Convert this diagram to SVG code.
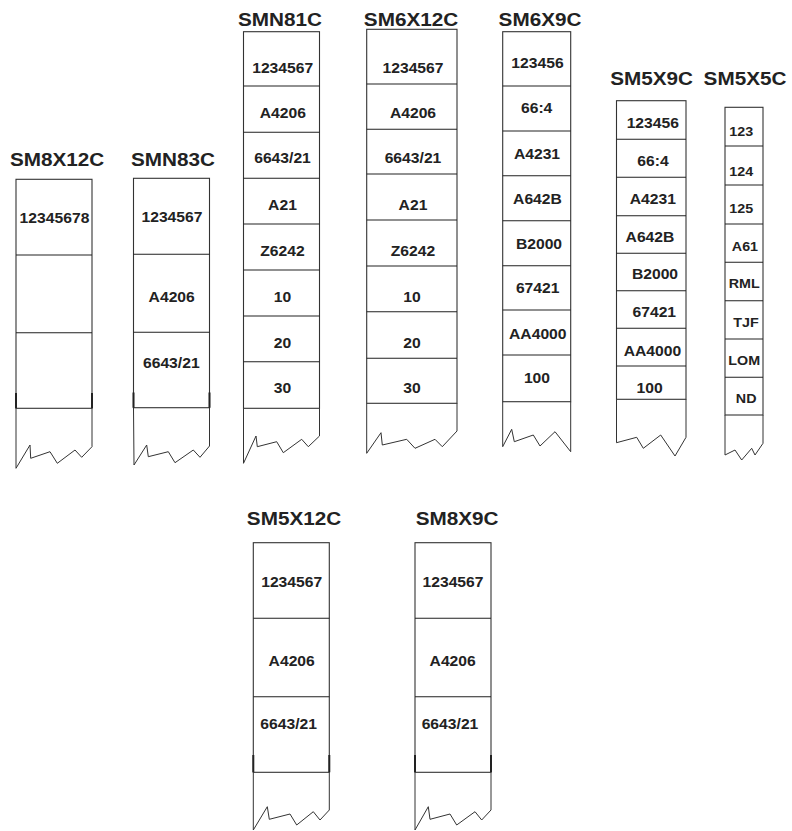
<svg xmlns="http://www.w3.org/2000/svg" width="792" height="831" viewBox="0 0 792 831">
<style>
  .box{fill:none;stroke:#333;stroke-width:1.1}
  .div{stroke:#222;stroke-width:1.1}
  .torn{fill:none;stroke:#333;stroke-width:1}
  .mark{stroke:#222;stroke-width:2}
  text{font-family:"Liberation Sans",Arial,sans-serif;font-weight:bold;text-anchor:middle;fill:#222;transform-box:fill-box;transform-origin:center}
  .h{font-size:18px;transform:scaleX(1.15)}
  .l{font-size:14px;transform:scaleX(1.12)}
  .s{font-size:13px;transform:scaleX(1.1)}
</style>
<rect width="792" height="831" fill="#fff"/>

<g id="SM8X12C">
  <text class="h" x="57" y="166">SM8X12C</text>
  <rect class="box" x="16" y="179.3" width="76" height="229"/>
  <path class="div" d="M16 255H92M16 332.7H92"/>
  <path class="mark" d="M16 393V408.3M92 393V408.3"/>
  <polyline class="torn" points="16,408.3 16,468.3 30,445 30.7,458.3 50,451.7 57.3,463.3 75,450 81.7,457.3 92,446.7 92,408.3"/>
  <text class="l" x="54.5" y="223">12345678</text>
</g>

<g id="SMN83C">
  <text class="h" x="173" y="166">SMN83C</text>
  <rect class="box" x="133.5" y="178.3" width="76" height="229.4"/>
  <path class="div" d="M133.5 254.3H209.5M133.5 332.3H209.5"/>
  <path class="mark" d="M133.5 392.5V407.7M209.5 392.5V407.7"/>
  <polyline class="torn" points="133.5,407.7 134,465 146.7,445 148.3,456.7 168.3,451.7 175,462.7 193.3,450 200,457.3 209.5,446 209.5,407.7"/>
  <text class="l" x="172" y="222">1234567</text>
  <text class="l" x="171.7" y="301.7">A4206</text>
  <text class="l" x="171.3" y="368">6643/21</text>
</g>

<g id="SMN81C">
  <text class="h" x="280" y="26">SMN81C</text>
  <rect class="box" x="243.5" y="31.7" width="76" height="376.6"/>
  <path class="div" d="M243.5 86H319.5M243.5 132.3H319.5M243.5 178.3H319.5M243.5 224H319.5M243.5 270H319.5M243.5 316H319.5M243.5 361.7H319.5"/>
  <polyline class="torn" points="243.5,408.3 243.5,463.3 256,436 257.3,446.7 276.7,441.7 283.3,452.7 301.7,439.3 308.3,446.7 319.5,436 319.5,408.3"/>
  <text class="l" x="282.7" y="72.7">1234567</text>
  <text class="l" x="282.8" y="118.3">A4206</text>
  <text class="l" x="282.5" y="163">6643/21</text>
  <text class="l" x="282.5" y="210">A21</text>
  <text class="l" x="282.5" y="256">Z6242</text>
  <text class="l" x="282.5" y="301.7">10</text>
  <text class="l" x="282.5" y="347.7">20</text>
  <text class="l" x="282.5" y="393.3">30</text>
</g>

<g id="SM6X12C">
  <text class="h" x="411" y="26">SM6X12C</text>
  <rect class="box" x="366.7" y="29.3" width="90.3" height="374"/>
  <path class="div" d="M366.7 84H457M366.7 129.3H457M366.7 174H457M366.7 220H457M366.7 266H457M366.7 311.7H457M366.7 358.3H457"/>
  <polyline class="torn" points="366.7,403.3 366.7,453.3 381,432.7 382.3,445 406.7,439.3 415,448.3 435,439.3 442.3,446.7 457,431 457,403.3"/>
  <text class="l" x="413" y="72.7">1234567</text>
  <text class="l" x="413" y="118.3">A4206</text>
  <text class="l" x="413" y="163">6643/21</text>
  <text class="l" x="413" y="210">A21</text>
  <text class="l" x="413" y="256">Z6242</text>
  <text class="l" x="412" y="301.7">10</text>
  <text class="l" x="412" y="347.7">20</text>
  <text class="l" x="412" y="393.3">30</text>
</g>

<g id="SM6X9C">
  <text class="h" x="540" y="26">SM6X9C</text>
  <rect class="box" x="502.7" y="31.7" width="68" height="370"/>
  <path class="div" d="M502.7 86H570.7M502.7 131H570.7M502.7 175.7H570.7M502.7 220.7H570.7M502.7 265.7H570.7M502.7 310H570.7M502.7 355H570.7"/>
  <polyline class="torn" points="502.7,401.7 502.7,446.7 511.7,429.3 514.3,441.7 533.3,435 540,446 555,431.7 570.7,451.7 570.7,401.7"/>
  <text class="l" x="537.5" y="68.3">123456</text>
  <text class="l" x="536.7" y="113.3">66:4</text>
  <text class="l" x="537" y="159.3">A4231</text>
  <text class="l" x="537.5" y="204">A642B</text>
  <text class="l" x="539" y="249.3">B2000</text>
  <text class="l" x="537.7" y="293.3">67421</text>
  <text class="l" x="537.8" y="339.3">AA4000</text>
  <text class="l" x="537" y="383.3">100</text>
</g>

<g id="SM5X9C">
  <text class="h" x="651.5" y="85">SM5X9C</text>
  <rect class="box" x="616.5" y="100.7" width="69.5" height="298.6"/>
  <path class="div" d="M616.5 139.3H686M616.5 177.3H686M616.5 215.7H686M616.5 253.3H686M616.5 290.7H686M616.5 328.3H686M616.5 366H686"/>
  <polyline class="torn" points="616.5,399.3 616.5,442.7 636.7,437.3 643.3,448.3 660.7,435 675,456 686,437.3 686,399.3"/>
  <text class="l" x="652.8" y="128.3">123456</text>
  <text class="l" x="653" y="166">66:4</text>
  <text class="l" x="652.8" y="204">A4231</text>
  <text class="l" x="650" y="241.7">A642B</text>
  <text class="l" x="655" y="279.3">B2000</text>
  <text class="l" x="654.3" y="317.3">67421</text>
  <text class="l" x="652.5" y="356">AA4000</text>
  <text class="l" x="649.7" y="392.7">100</text>
</g>

<g id="SM5X5C">
  <text class="h" x="745" y="85">SM5X5C</text>
  <rect class="box" x="725" y="107.3" width="38" height="307.7"/>
  <path class="div" d="M725 146H763M725 185H763M725 224H763M725 262.3H763M725 300.7H763M725 339H763M725 377.3H763"/>
  <polyline class="torn" points="725,415 725,455 735,450 741.7,460 751.7,448.3 755,455 763,443.3 763,415"/>
  <text class="s" x="741.2" y="136">123</text>
  <text class="s" x="741.2" y="176">124</text>
  <text class="s" x="741.2" y="212.7">125</text>
  <text class="s" x="745" y="251">A61</text>
  <text class="s" x="744.2" y="288.3">RML</text>
  <text class="s" x="746" y="326.7">TJF</text>
  <text class="s" x="744.2" y="365">LOM</text>
  <text class="s" x="746.2" y="403.3">ND</text>
</g>

<g id="SM5X12C">
  <text class="h" x="294" y="525">SM5X12C</text>
  <rect class="box" x="253.3" y="542.7" width="76" height="229.6"/>
  <path class="div" d="M253.3 618.3H329.3M253.3 696.7H329.3"/>
  <path class="mark" d="M253.3 755V772.3M329.3 755V772.3"/>
  <polyline class="torn" points="253.3,772.3 253.3,830 267.3,806.7 269.3,819.3 290,814 296.7,825 313.3,811.7 320,820 329.3,810 329.3,772.3"/>
  <text class="l" x="291.7" y="587.3">1234567</text>
  <text class="l" x="291.7" y="665.7">A4206</text>
  <text class="l" x="288.7" y="729">6643/21</text>
</g>

<g id="SM8X9C">
  <text class="h" x="457" y="525">SM8X9C</text>
  <rect class="box" x="415" y="542.7" width="76" height="229.6"/>
  <path class="div" d="M415 618.3H491M415 696.7H491"/>
  <path class="mark" d="M415 755V772.3M491 755V772.3"/>
  <polyline class="torn" points="415,772.3 415,830 428.3,806.7 430,819.3 450,814 456.7,825 475,811.7 481.7,820 491,810 491,772.3"/>
  <text class="l" x="453" y="587.3">1234567</text>
  <text class="l" x="452.7" y="665.7">A4206</text>
  <text class="l" x="450" y="729">6643/21</text>
</g>
</svg>
